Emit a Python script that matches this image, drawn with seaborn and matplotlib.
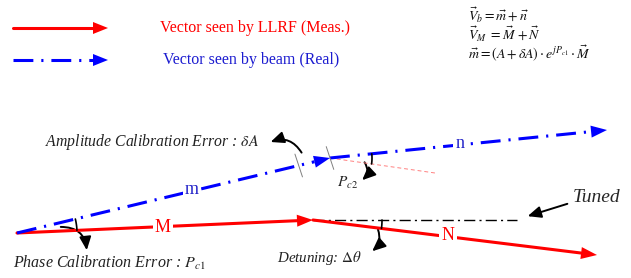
import numpy as np
import pandas as pd
import matplotlib
matplotlib.use('Agg')
import matplotlib.pyplot as plt
import seaborn as sns
from matplotlib.patches import Polygon, FancyArrowPatch

sns.set_theme(style='white')
plt.rcParams['font.family'] = ['Liberation Serif', 'DejaVu Serif']
plt.rcParams['mathtext.fontset'] = 'stix'

RED = '#ff0000'
BLUE = '#0000ff'

# vector end points in picture pixels (y grows downwards)
origin = [17, 233]
M_tip = [313, 220]
N_tip = [597, 255]
m_tip = [330, 158]
n_tip = [607, 130]
tuned_end = [517, 220]
pc2_ref_end = [435, 173]
delta_a_ticks = [0.90, 1.0]   # fraction along m where the dA ticks sit

legend_x = [13, 108]
legend_y = [28, 60]
legend_labels = ['Vector seen by LLRF (Meas.)', 'Vector seen by beam (Real)']
equations = [r'$\vec{V}_b=\vec{m}+\vec{n}$',
             r'$\vec{V}_M\ =\vec{M}\,+\vec{N}$',
             r'$\vec{m}=\left(A+\delta A\right)\cdot e^{jP_{c1}}\cdot\vec{M}$']
equation_y = [15, 34, 54]

DASHDOT = (0, (6.5, 2.6, 0.7, 2.6))


def vector(ax, p0, p1, color, dashed=False, head_len=16, head_w=6, lw=2.2):
    p0, p1 = np.array(p0, float), np.array(p1, float)
    d = p1 - p0
    u = d / np.hypot(*d)
    base = p1 - u * head_len
    perp = np.array([-u[1], u[0]])
    seg = pd.DataFrame({'x': [p0[0], base[0]], 'y': [p0[1], base[1]]})
    sns.lineplot(data=seg, x='x', y='y', ax=ax, color=color, lw=lw,
                 linestyle=DASHDOT if dashed else '-', sort=False, estimator=None)
    ax.add_patch(Polygon([p1, base + perp * head_w, base - perp * head_w],
                         closed=True, facecolor=color, edgecolor='none', zorder=3))


def angle_arc(ax, c, pa, pb, r):
    a = np.arctan2(pa[1] - c[1], pa[0] - c[0])
    b = np.arctan2(pb[1] - c[1], pb[0] - c[0])
    t = np.linspace(a, b, 20)
    ax.plot(c[0] + r * np.cos(t), c[1] + r * np.sin(t), color='black', lw=1.2)


def curved(ax, start, end, rad):
    ax.add_patch(FancyArrowPatch(start, end, connectionstyle=f'arc3,rad={rad}',
                                 arrowstyle='-|>,head_length=8,head_width=3.5',
                                 mutation_scale=1, color='black', lw=1.4))


fig = plt.figure(figsize=(6.31, 2.78), dpi=100)
ax = fig.add_axes([0, 0, 1, 1])
ax.set_xlim(0, 631)
ax.set_ylim(278, 0)
ax.axis('off')

# legend
vector(ax, [legend_x[0], legend_y[0]], [legend_x[1], legend_y[0]], RED, head_len=15)
vector(ax, [legend_x[0], legend_y[1]], [legend_x[1], legend_y[1]], BLUE, dashed=True, head_len=15)
ax.text(160, legend_y[0], legend_labels[0], color=RED, fontsize=11.5, va='center')
ax.text(163, legend_y[1], legend_labels[1], color='#1c1cd0', fontsize=11.5, va='center')
for eq, y in zip(equations, equation_y):
    ax.text(468, y, eq, fontsize=10, va='center', color='#111111')

# reference lines
ax.plot([M_tip[0], tuned_end[0]], [M_tip[1], tuned_end[1]], color='black', lw=1,
        linestyle=(0, (8, 3, 1.5, 3)))
ax.plot([m_tip[0], pc2_ref_end[0]], [m_tip[1], pc2_ref_end[1]], color='#ff8080', lw=0.7,
        linestyle=(0, (4, 3)))

# vectors
vector(ax, origin, M_tip, RED)
vector(ax, M_tip, N_tip, RED)
vector(ax, origin, m_tip, BLUE, dashed=True)
vector(ax, m_tip, n_tip, BLUE, dashed=True)

# amplitude error ticks
mv = np.array(m_tip, float) - np.array(origin, float)
for f in delta_a_ticks:
    c = np.array(origin) + mv * f
    tv = np.array([0.33, 1.0]) / np.hypot(0.33, 1.0)
    ax.plot([c[0] - 12 * tv[0], c[0] + 12 * tv[0]], [c[1] - 12 * tv[1], c[1] + 12 * tv[1]],
            color='#808080', lw=0.7)

# angle arcs
angle_arc(ax, origin, M_tip, m_tip, 60)
angle_arc(ax, m_tip, pc2_ref_end, n_tip, 42)
angle_arc(ax, M_tip, tuned_end, N_tip, 69)

# labels on vectors
lab = dict(fontsize=13, ha='center', va='center',
           bbox=dict(facecolor='white', edgecolor='none', pad=1.5))
ax.text(163, 227, 'M', color=RED, **lab)
ax.text(448, 235, 'N', color=RED, **lab)
ax.text(192, 189, 'm', color='#2020c8', **lab)
ax.text(460, 144, 'n', color='#2020c8', **lab)

# annotations
ax.text(45, 142, r'Amplitude Calibration Error : $\delta A$', style='italic',
        fontsize=11.3, va='center', color='#222222')
curved(ax, (303, 155), (268, 143), 0.45)
ax.text(13, 263, r'Phase Calibration Error : $P_{c1}$', style='italic',
        fontsize=11.5, va='center', color='#222222')
curved(ax, (58, 227), (87, 253), -0.5)
ax.text(348, 183, r'$P_{c2}$', fontsize=11, ha='center', va='center', color='#222222')
curved(ax, (363, 160), (360, 182), -0.5)
ax.text(362, 258, r'Detuning: $\Delta\theta$', style='italic', fontsize=10.8,
        ha='right', va='center', color='#222222')
curved(ax, (377, 227), (370, 253), -0.4)
ax.text(597, 197, 'Tuned', style='italic', fontsize=14, ha='center', va='center')
ax.add_patch(FancyArrowPatch((570, 203), (525, 217), arrowstyle='-|>,head_length=8,head_width=3.5',
                             mutation_scale=1, color='black', lw=1.4))

fig.savefig('out.png', dpi=100)
